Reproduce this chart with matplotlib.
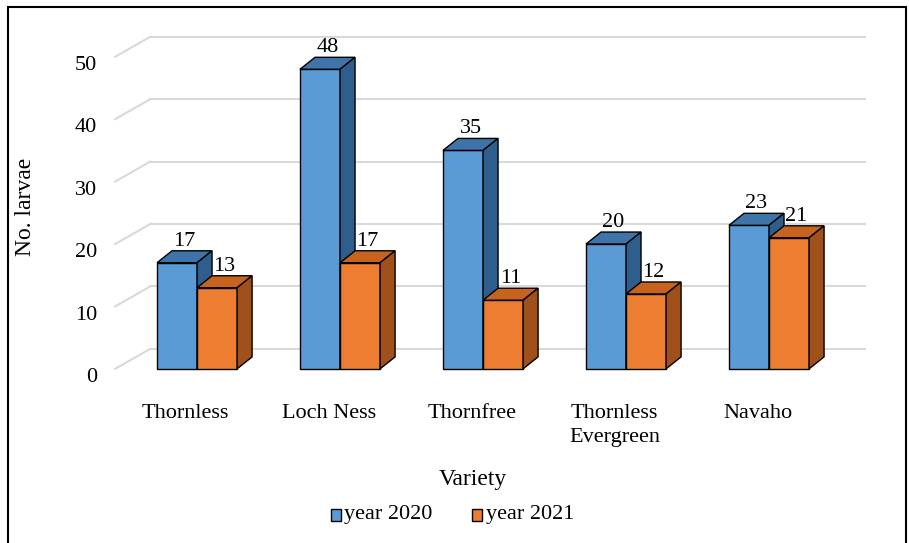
import matplotlib
matplotlib.use("Agg")
import matplotlib.pyplot as plt
from matplotlib.patches import Polygon, Rectangle

categories = ["Thornless", "Loch Ness", "Thornfree", "Thornless\nEvergreen", "Navaho"]
y2020 = [17, 48, 35, 20, 23]
y2021 = [13, 17, 11, 12, 21]
ticks = [0, 10, 20, 30, 40, 50]

plt.rcParams['font.family'] = ['Liberation Serif', 'DejaVu Serif']
fig = plt.figure(figsize=(9.09, 5.43), dpi=100)
ax = fig.add_axes([0, 0, 1, 1])
ax.set_xlim(-1.378, 4.979)
ax.set_ylim(-27.9, 59.1)
ax.axis('off')

W, DX, DY = 0.28, 0.105, 1.92
BX, BY = 0.245, 3.2
gx0, gx1 = -0.573, 4.671
for t in ticks:
    ax.plot([gx0 + BX, gx1], [t + BY, t + BY], color='#d9d9d9', lw=1.5, zorder=0)
    ax.plot([gx0, gx0 + BX], [t, t + BY], color='#d9d9d9', lw=1.5, zorder=0)
    ax.text(-0.70, t - 1.4, str(t), ha='right', va='center', fontsize=16)

def bar3d(x0, v, front, top, side):
    ax.add_patch(Rectangle((x0, 0), W, v, fc=front, ec='black', lw=1, zorder=2))
    ax.add_patch(Polygon([(x0, v), (x0 + W, v), (x0 + W + DX, v + DY), (x0 + DX, v + DY)],
                         fc=top, ec='black', lw=1, zorder=2))
    ax.add_patch(Polygon([(x0 + W, 0), (x0 + W + DX, DY), (x0 + W + DX, v + DY), (x0 + W, v)],
                         fc=side, ec='black', lw=1, zorder=2))
    ax.text(x0 + W / 2 + DX / 2, v + DY, str(v), ha='center', va='bottom', fontsize=16, zorder=5)

for i, c in enumerate(categories):
    bar3d(i - W, y2020[i], '#5B9BD5', '#3E74A8', '#2F5E8C')
for i, c in enumerate(categories):
    bar3d(i, y2021[i], '#ED7D31', '#C5631F', '#A0501A')
    ax.text(i - 0.08, -5.6, c, ha='center', va='top', fontsize=16, linespacing=1.4)

ax.text(1.93, -17.7, "Variety", ha='center', va='center', fontsize=17)
ax.text(-1.2, 26, "No. larvae", rotation=90, ha='center', va='center', fontsize=17)

# legend
ax.add_patch(Rectangle((0.935, -24.3), 0.07, 1.8, fc='#5B9BD5', ec='black', lw=1))
ax.text(1.03, -23.4, "year 2020", ha='left', va='center', fontsize=16)
ax.add_patch(Rectangle((1.925, -24.3), 0.07, 1.8, fc='#ED7D31', ec='black', lw=1))
ax.text(2.02, -23.4, "year 2021", ha='left', va='center', fontsize=16)

fig.patches.append(Rectangle((0.009, -0.01), 0.988, 0.998, transform=fig.transFigure,
                             fill=False, ec='black', lw=1.5))
fig.savefig("out.png", dpi=100)
